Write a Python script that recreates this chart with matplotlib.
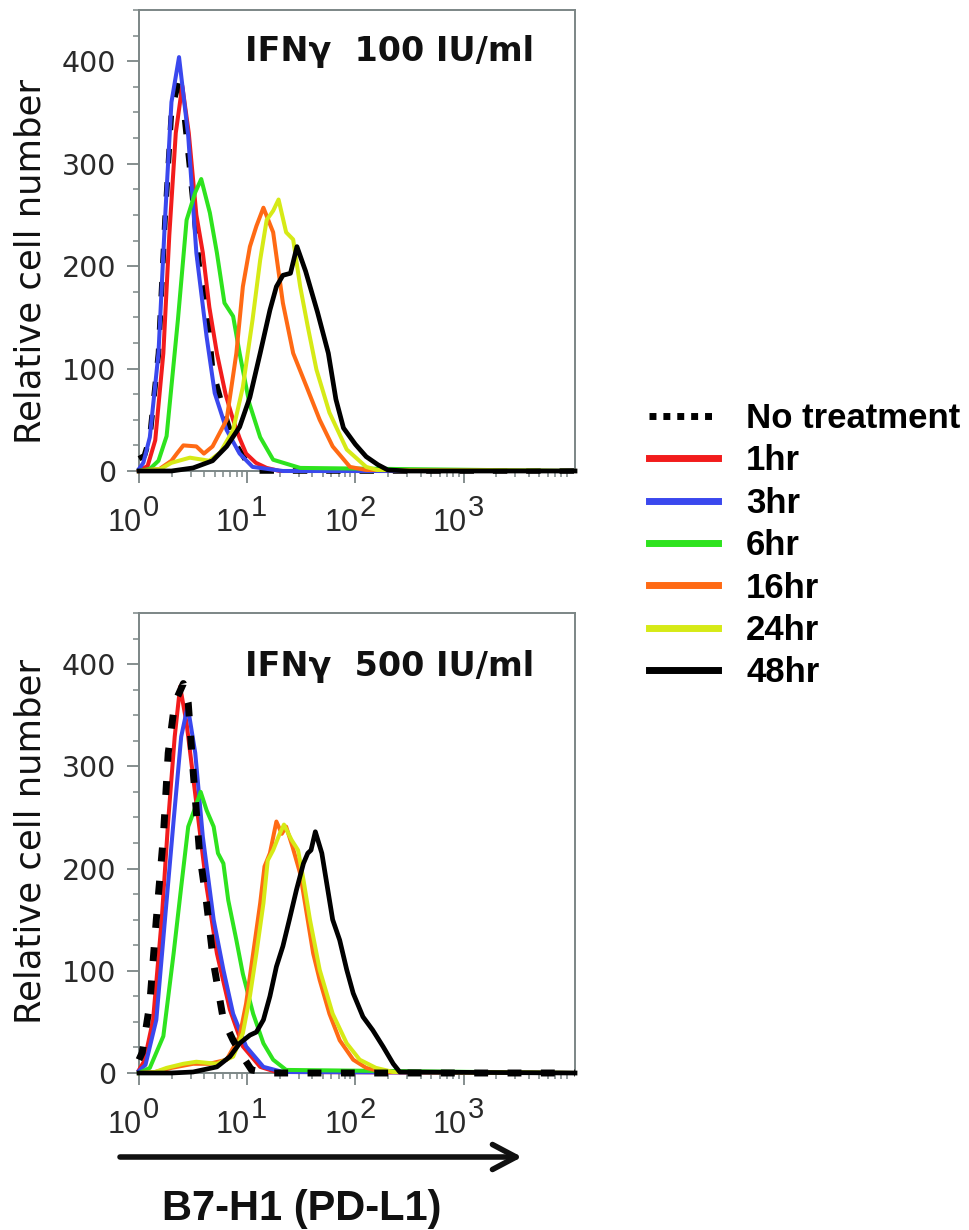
import numpy as np
import matplotlib
matplotlib.use("Agg")
import matplotlib.pyplot as plt
from matplotlib.lines import Line2D
from matplotlib.patches import FancyArrowPatch
from matplotlib.transforms import blended_transform_factory, offset_copy

# ---------------- data (x stored as log10 of fluorescence) ----------------
series_labels = ["No treatment", "1hr", "3hr", "6hr", "16hr", "24hr", "48hr"]
series_colors = ["#000000", "#f21c1c", "#3a48ee", "#2ee31e", "#ff6a14", "#d6ea16", "#000000"]
panel_titles = ["IFN\u03b3  100 IU/ml", "IFN\u03b3  500 IU/ml"]
y_label = "Relative cell number"
x_label = "B7-H1 (PD-L1)"
x_tick_values = [1, 10, 100, 1000]
x_tick_exponents = ["0", "1", "2", "3"]
y_tick_values = [0, 100, 200, 300, 400]

# Top panel: IFNg 100 IU/ml
top_none_logx = [0.0, 0.05, 0.10, 0.18, 0.24, 0.30, 0.38, 0.47, 0.56, 0.62, 0.68, 0.78, 0.87, 0.99, 1.10, 4.03]
top_none_y = [12, 15, 33, 115, 245, 350, 386, 294, 197, 170, 99, 60, 30, 10, 0, 0]
top_1hr_logx = [0.0, 0.08, 0.15, 0.225, 0.28, 0.34, 0.40, 0.46, 0.53, 0.59, 0.65, 0.72, 0.80, 0.87, 0.93, 0.99, 1.08, 1.18, 1.30, 4.03]
top_1hr_y = [0, 5, 30, 115, 230, 330, 376, 330, 250, 213, 160, 115, 75, 50, 32, 17, 8, 3, 0, 0]
top_3hr_logx = [0.0, 0.04, 0.10, 0.18, 0.24, 0.30, 0.37, 0.455, 0.53, 0.625, 0.70, 0.81, 0.93, 1.05, 1.33, 4.03]
top_3hr_y = [2, 8, 33, 115, 245, 360, 404, 327, 213, 131, 76, 40, 17, 4, 0, 0]
top_6hr_logx = [0.0, 0.10, 0.18, 0.255, 0.36, 0.44, 0.52, 0.575, 0.655, 0.72, 0.79, 0.87, 0.93, 1.02, 1.12, 1.24, 1.49, 4.03]
top_6hr_y = [0, 2, 10, 34, 148, 245, 272, 285, 252, 213, 164, 151, 115, 66, 33, 11, 3, 0]
top_16hr_logx = [0.0, 0.19, 0.30, 0.35, 0.41, 0.53, 0.60, 0.68, 0.81, 0.90, 0.96, 1.025, 1.085, 1.15, 1.24, 1.33, 1.425, 1.55, 1.67, 1.79, 1.95, 2.10, 4.03]
top_16hr_y = [0, 2, 10, 17, 25, 24, 17, 24, 50, 115, 180, 219, 239, 257, 233, 164, 115, 82, 50, 24, 4, 1, 0]
top_24hr_logx = [0.0, 0.20, 0.30, 0.47, 0.65, 0.75, 0.87, 0.96, 1.05, 1.12, 1.18, 1.24, 1.29, 1.36, 1.425, 1.49, 1.56, 1.64, 1.76, 1.92, 2.10, 2.20, 4.03]
top_24hr_y = [0, 2, 8, 13, 10, 18, 40, 82, 148, 206, 245, 254, 265, 233, 226, 180, 141, 99, 57, 21, 4, 1, 0]
top_48hr_logx = [0.0, 0.30, 0.50, 0.68, 0.81, 0.93, 1.025, 1.12, 1.21, 1.27, 1.33, 1.40, 1.46, 1.54, 1.65, 1.75, 1.82, 1.89, 2.00, 2.10, 2.21, 2.30, 2.50, 4.03]
top_48hr_y = [0, 0, 3, 10, 24, 43, 72, 115, 157, 180, 191, 193, 219, 195, 155, 115, 70, 42, 26, 14, 6, 1, 0, 0]

# Bottom panel: IFNg 500 IU/ml
bot_none_logx = [0.0, 0.03, 0.10, 0.16, 0.225, 0.27, 0.33, 0.41, 0.455, 0.50, 0.56, 0.625, 0.69, 0.78, 0.87, 0.96, 1.04, 1.20, 4.03]
bot_none_y = [13, 20, 68, 150, 231, 313, 362, 381, 362, 296, 215, 166, 107, 52, 32, 16, 3, 0, 0]
bot_1hr_logx = [0.0, 0.05, 0.13, 0.21, 0.27, 0.33, 0.38, 0.44, 0.53, 0.625, 0.72, 0.84, 0.96, 1.12, 1.27, 4.03]
bot_1hr_y = [3, 12, 52, 150, 247, 329, 378, 342, 264, 182, 117, 62, 26, 6, 1, 0]
bot_3hr_logx = [0.0, 0.06, 0.16, 0.24, 0.32, 0.39, 0.45, 0.52, 0.59, 0.69, 0.78, 0.87, 0.99, 1.15, 1.33, 4.03]
bot_3hr_y = [2, 8, 52, 150, 247, 329, 359, 313, 231, 150, 101, 58, 26, 6, 1, 0]
bot_6hr_logx = [0.0, 0.10, 0.225, 0.32, 0.39, 0.455, 0.50, 0.57, 0.625, 0.69, 0.73, 0.78, 0.825, 0.90, 0.96, 1.055, 1.15, 1.24, 1.36, 4.03]
bot_6hr_y = [0, 5, 36, 117, 182, 241, 254, 275, 257, 241, 215, 205, 169, 130, 97, 58, 29, 13, 3, 0]
bot_16hr_logx = [0.0, 0.15, 0.30, 0.50, 0.65, 0.81, 0.93, 0.99, 1.055, 1.12, 1.16, 1.21, 1.27, 1.32, 1.36, 1.42, 1.49, 1.55, 1.61, 1.67, 1.76, 1.855, 1.98, 2.10, 2.25, 4.03]
bot_16hr_y = [0, 1, 5, 9, 9, 13, 36, 68, 117, 166, 202, 215, 246, 234, 241, 221, 195, 156, 117, 91, 58, 32, 13, 5, 1, 0]
bot_24hr_logx = [0.0, 0.15, 0.255, 0.41, 0.53, 0.72, 0.87, 0.96, 1.025, 1.085, 1.15, 1.19, 1.24, 1.30, 1.34, 1.41, 1.47, 1.52, 1.58, 1.67, 1.79, 1.92, 2.04, 2.19, 2.35, 4.03]
bot_24hr_y = [0, 1, 5, 9, 11, 9, 16, 39, 75, 117, 166, 208, 218, 234, 243, 228, 218, 189, 150, 101, 58, 29, 13, 5, 1, 0]
bot_48hr_logx = [0.0, 0.30, 0.50, 0.72, 0.84, 0.93, 1.025, 1.085, 1.15, 1.21, 1.27, 1.33, 1.39, 1.455, 1.52, 1.56, 1.59, 1.63, 1.69, 1.73, 1.79, 1.855, 1.92, 1.98, 2.07, 2.16, 2.255, 2.35, 2.41, 4.03]
bot_48hr_y = [0, 0, 1, 6, 16, 29, 37, 40, 52, 75, 104, 124, 150, 179, 205, 215, 218, 236, 215, 189, 150, 130, 101, 78, 55, 42, 26, 9, 1, 0]

top_series = [(top_none_logx, top_none_y), (top_1hr_logx, top_1hr_y), (top_3hr_logx, top_3hr_y),
              (top_6hr_logx, top_6hr_y), (top_16hr_logx, top_16hr_y), (top_24hr_logx, top_24hr_y),
              (top_48hr_logx, top_48hr_y)]
bot_series = [(bot_none_logx, bot_none_y), (bot_1hr_logx, bot_1hr_y), (bot_3hr_logx, bot_3hr_y),
              (bot_6hr_logx, bot_6hr_y), (bot_16hr_logx, bot_16hr_y), (bot_24hr_logx, bot_24hr_y),
              (bot_48hr_logx, bot_48hr_y)]

# ---------------- styling ----------------
SPINE = "#7c8686"
TICKTXT = "#2a2a2a"
W, H = 969, 1230
fig = plt.figure(figsize=(W / 100, H / 100), dpi=100)

ax_top = fig.add_axes([139 / W, 1 - 471 / H, 436 / W, 461 / H])
ax_bot = fig.add_axes([139 / W, 1 - 1073 / H, 436 / W, 460 / H])

panel_specs = [
    (ax_top, top_series, panel_titles[0], 400, 4.0, (0, (2.6, 3.4)), 261, 2.9),
    (ax_bot, bot_series, panel_titles[1], 388, 5.0, (0, (2.0, 2.8)), 842, 6.0),
]

for ax, series, title, title_y, dash_lw, dash_style, ylab_px, dash_z in panel_specs:
    for i, ((lx, yv), col) in enumerate(zip(series, series_colors)):
        xv = 10 ** np.asarray(lx, dtype=float)
        if i == 0:
            ax.plot(xv, yv, color=col, lw=dash_lw, linestyle=dash_style,
                    clip_on=False, zorder=dash_z)
        else:
            lw = 3.4 if i == 6 else 2.9
            ax.plot(xv, yv, color=col, lw=lw, clip_on=False, zorder=3 + i * 0.1)
    ax.set_xscale("log")
    ax.set_xlim(1, 10 ** 4.03)
    ax.set_ylim(0, 450)
    ax.set_xticks(x_tick_values)
    ax.set_xticklabels([""] * len(x_tick_values))
    ax.xaxis.set_minor_locator(matplotlib.ticker.LogLocator(base=10, subs=np.arange(2, 10), numticks=20))
    ax.xaxis.set_minor_formatter(matplotlib.ticker.NullFormatter())
    ax.set_yticks(y_tick_values)
    ax.set_yticklabels([str(v) for v in y_tick_values])
    ax.yaxis.set_minor_locator(matplotlib.ticker.MultipleLocator(25))
    ax.tick_params(axis="both", which="major", direction="out", length=8.5, width=1.3,
                   color=SPINE, labelcolor=TICKTXT)
    ax.tick_params(axis="both", which="minor", direction="out", length=4, width=1.1, color=SPINE)
    ax.tick_params(axis="y", which="major", labelsize=20.5, pad=8)
    for lab in ax.get_yticklabels():
        lab.set_fontfamily("DejaVu Sans")
    for sp in ax.spines.values():
        sp.set_color(SPINE)
        sp.set_linewidth(1.4)
    # title
    ax.text(10 ** 0.98, title_y, title, fontsize=24, fontweight="bold",
            fontfamily="DejaVu Sans", ha="left", va="baseline", color="#111111")
    # x tick labels drawn as 10 with a superscript exponent
    trans = blended_transform_factory(ax.transData, ax.transAxes)
    base_tr = offset_copy(trans, fig=fig, x=3, y=-60, units="dots")
    exp_tr = offset_copy(trans, fig=fig, x=4, y=-45, units="dots")
    for v, e in zip(x_tick_values, x_tick_exponents):
        ax.text(v, 0, "10", transform=base_tr, ha="right", va="baseline",
                fontsize=22, fontfamily="Liberation Sans", color=TICKTXT)
        ax.text(v, 0, e, transform=exp_tr, ha="left", va="baseline",
                fontsize=21, fontfamily="Liberation Sans", color=TICKTXT)
    # y label
    fig.text(31 / W, 1 - ylab_px / H, y_label, rotation=90, ha="center", va="center",
             fontsize=25.5, fontfamily="DejaVu Sans", color="#111111")

# arrow and x label
arrow = FancyArrowPatch((120 / W, 1 - 1157 / H), (522 / W, 1 - 1157 / H),
                        transform=fig.transFigure,
                        arrowstyle="->,head_length=0.85,head_width=0.45",
                        mutation_scale=20, lw=4, color="#111111", shrinkA=0, shrinkB=0)
fig.add_artist(arrow)
fig.text(302 / W, 1 - 1220 / H, x_label, ha="center", va="baseline",
         fontsize=30, fontweight="bold", fontfamily="Liberation Sans", color="#111111")

# legend
handles = []
for i, (lab, col) in enumerate(zip(series_labels, series_colors)):
    if i == 0:
        handles.append(Line2D([], [], color=col, lw=5, linestyle=(0, (1, 1))))
    else:
        handles.append(Line2D([], [], color=col, lw=5))
leg = fig.legend(handles, series_labels, loc="upper left",
                 bbox_to_anchor=(649 / W, 1 - 402 / H), frameon=False,
                 borderpad=0, borderaxespad=0, handlelength=2.0, handletextpad=0.8,
                 labelspacing=0.27, prop={"family": "Liberation Sans", "weight": "bold", "size": 25})

fig.savefig("out.png", dpi=100)
